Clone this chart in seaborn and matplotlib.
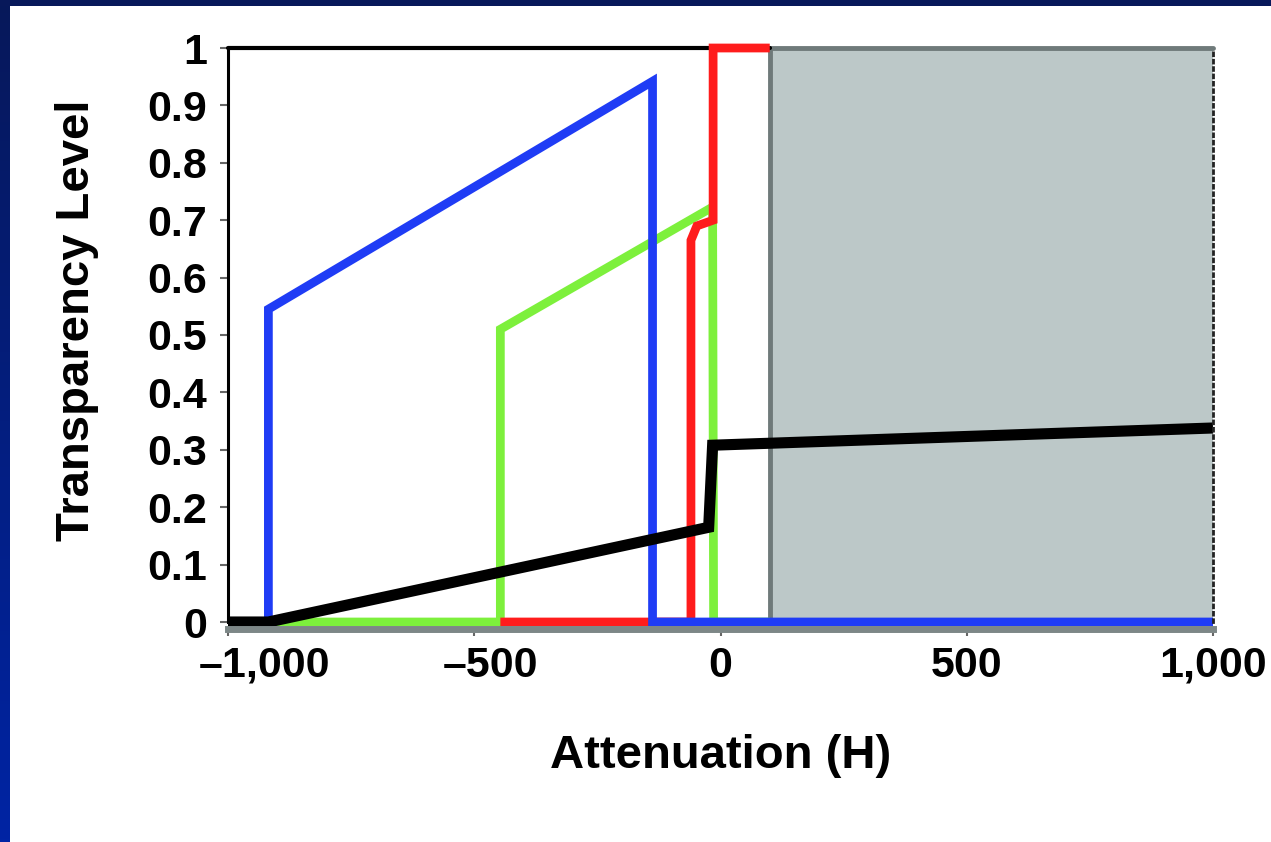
import numpy as np
import pandas as pd
import matplotlib
matplotlib.use("Agg")
import matplotlib.pyplot as plt
import matplotlib.transforms as mtransforms
import seaborn as sns
from matplotlib.ticker import FixedLocator, FixedFormatter

# valorile
blue_x = [-1000, -918, -918, -138, -138, 1000]
blue_y = [0, 0, 0.545, 0.942, 0, 0]

green_x = [-1000, -447, -447, -16, -14, 100]
green_y = [0, 0, 0.51, 0.723, 0, 0]

red_x = [-447, -60, -60, -48, -15, -15, 100]
red_y = [0, 0, 0.665, 0.69, 0.70, 1.0, 1.0]

black_x = [-1000, -918, -24, -16, 1000]
black_y = [0, 0, 0.165, 0.308, 0.338]

shade_start = 100
shade_end = 1000

x_ticks = [-1000, -500, 0, 500, 1000]
x_labels = ["–1,000", "–500", "0", "500", "1,000"]
y_ticks = [0, 0.1, 0.2, 0.3, 0.4, 0.5, 0.6, 0.7, 0.8, 0.9, 1.0]
y_labels = ["0", "0.1", "0.2", "0.3", "0.4", "0.5", "0.6", "0.7", "0.8", "0.9", "1"]

sns.set_style("white")
plt.rcParams["font.family"] = ["Liberation Sans", "DejaVu Sans"]
plt.rcParams["font.weight"] = "bold"
plt.rcParams["text.color"] = "black"
plt.rcParams["axes.labelcolor"] = "black"

fig = plt.figure(figsize=(12.71, 8.42), dpi=100)
fig.patch.set_facecolor("white")

# chenarul albastru (sus si stanga)
left_band = fig.add_axes([0, 0, 10 / 1271, 1])
grad = np.linspace(0, 1, 256).reshape(-1, 1)
left_band.imshow(grad, aspect="auto", cmap=matplotlib.colors.LinearSegmentedColormap.from_list(
    "band", ["#07185a", "#0024a4"]), extent=[0, 1, 0, 1], origin="upper")
left_band.axis("off")
top_band = fig.add_axes([0, 1 - 6 / 842, 1, 6 / 842])
top_band.axis("off")
top_band.add_patch(plt.Rectangle((0, 0), 1, 1, color="#07185a", transform=top_band.transAxes))

ax = fig.add_axes([228 / 1271, 220 / 842, 985 / 1271, 574 / 842])

# zona gri
ax.axvspan(shade_start, shade_end, facecolor="#bcc8c8", edgecolor="none", zorder=0.5)
ax.plot([shade_start, shade_start, shade_end], [0, 1, 1], color="#6f7a7a", lw=3.5,
        clip_on=False, zorder=1)

series = [
    ("green", green_x, green_y, "#7df03c", 6.3),
    ("red", red_x, red_y, "#ff1c1c", 6.3),
    ("blue", blue_x, blue_y, "#1f3cf5", 6.3),
    ("black", black_x, black_y, "#000000", 8),
]
for name, xs, ys, color, lw in series:
    df = pd.DataFrame({"x": xs, "y": ys})
    line_ax = sns.lineplot(data=df, x="x", y="y", sort=False, estimator=None,
                           color=color, linewidth=lw, ax=ax)
    line = line_ax.lines[-1]
    line.set_clip_on(False)
    line.set_solid_joinstyle("miter")
    line.set_solid_capstyle("butt")

ax.set_xlim(-1000, 1000)
ax.set_ylim(0, 1)

# margini
ax.spines["top"].set_visible(False)
ax.plot([-1000, shade_start], [1, 1], color="black", lw=3, clip_on=False, zorder=1)
ax.spines["left"].set_color("black")
ax.spines["left"].set_linewidth(2.2)
ax.spines["right"].set_color("#222222")
ax.spines["right"].set_linestyle(":")
ax.spines["right"].set_linewidth(2)
ax.spines["bottom"].set_color("#7d8787")
ax.spines["bottom"].set_linewidth(5)
ax.spines["bottom"].set_position(("outward", 5))

ax.xaxis.set_major_locator(FixedLocator(x_ticks))
ax.xaxis.set_major_formatter(FixedFormatter(x_labels))
ax.yaxis.set_major_locator(FixedLocator(y_ticks))
ax.yaxis.set_major_formatter(FixedFormatter(y_labels))
ax.tick_params(axis="y", direction="out", length=6, width=1.5, color="#666666",
               labelsize=31, pad=9, left=True, labelcolor="black")
ax.tick_params(axis="x", direction="out", length=5, width=1.5, color="#666666",
               labelsize=31, pad=7, bottom=True, labelcolor="black")
for lab in ax.get_xticklabels() + ax.get_yticklabels():
    lab.set_fontweight("bold")

# etichetele negative sunt un pic mutate spre dreapta in original
shifts = [36, 16, 0, 0, 0]
for lab, dx in zip(ax.get_xticklabels(), shifts):
    lab.set_transform(lab.get_transform() + mtransforms.ScaledTranslation(dx / 100, 0, fig.dpi_scale_trans))

ax.set_xlabel("Attenuation (H)", fontsize=34, fontweight="bold", color="black")
ax.set_ylabel("Transparency Level", fontsize=34, fontweight="bold", color="black")
ax.xaxis.set_label_coords(0.5, -0.195)
ax.yaxis.set_label_coords(-0.131, 0.526)

plt.savefig("out.png", dpi=100, facecolor="white")
